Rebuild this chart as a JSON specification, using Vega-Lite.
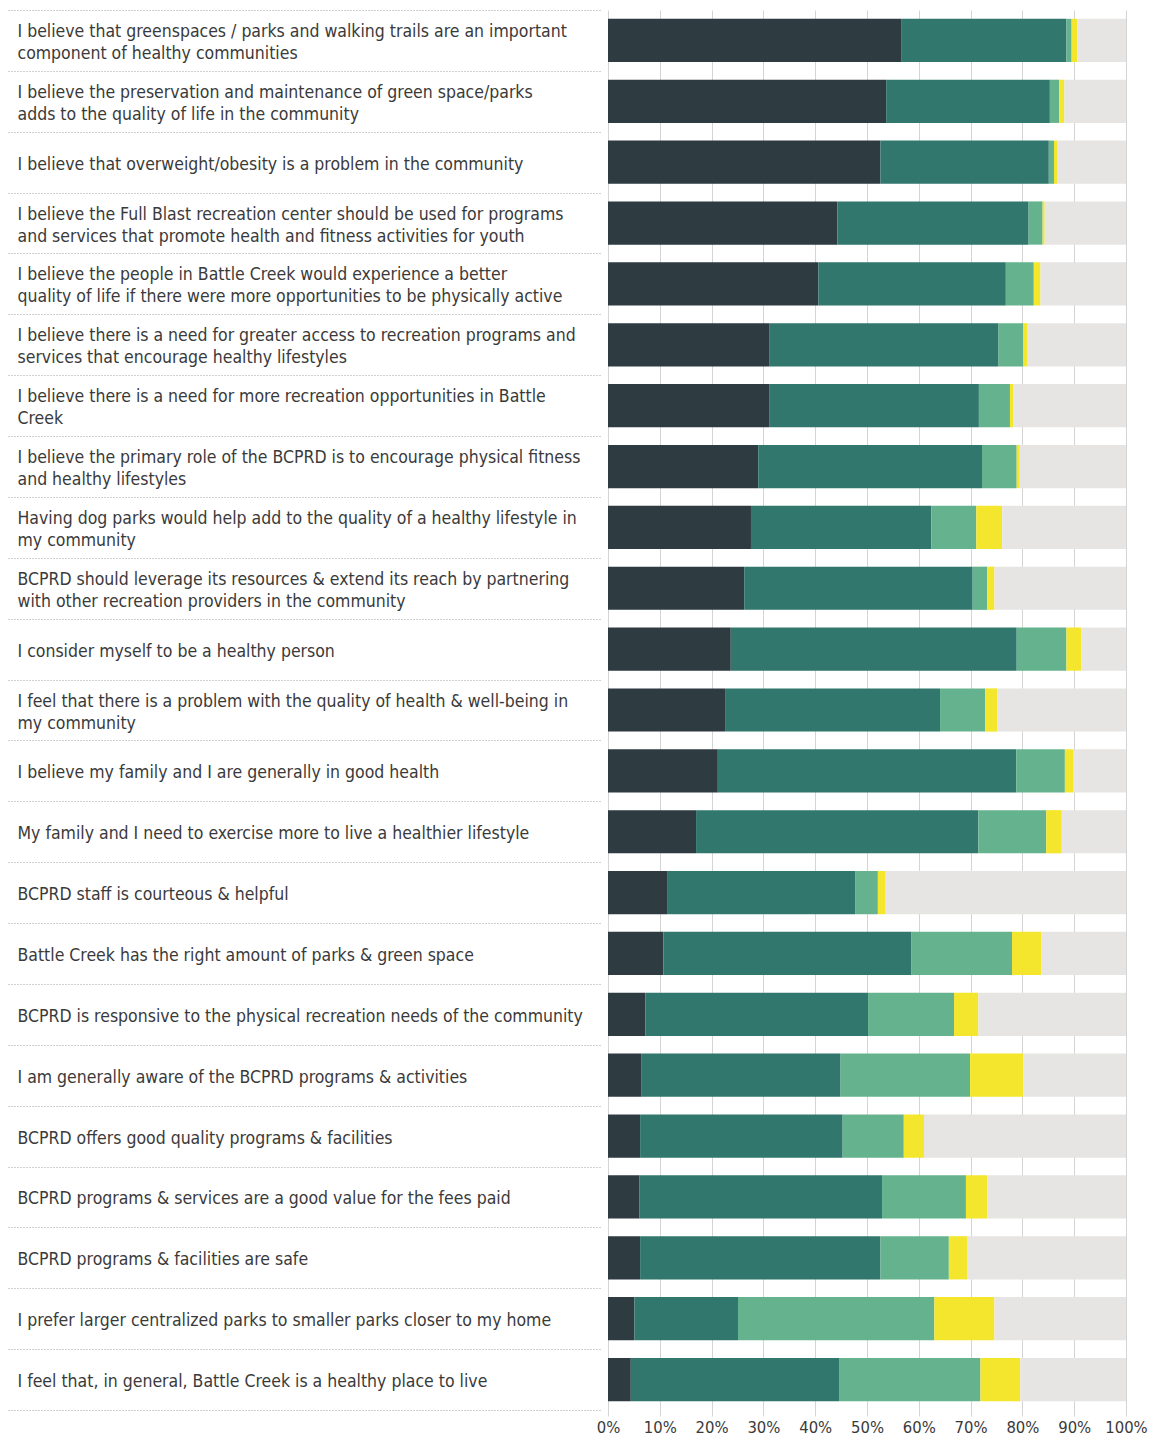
{
  "$schema": "https://vega.github.io/schema/vega-lite/v6.json",
  "autosize": {"type": "none"},
  "padding": {"left": 608, "top": 10, "right": 25, "bottom": 29},
  "width": 518,
  "height": 1400,
  "background": "white",
  "config": {"view": {"stroke": null}},
  "data": {"values": [
    {"q": "I believe that greenspaces / parks and walking trails are an important|component of healthy communities", "Strongly Agree": 56.7, "Agree": 31.8, "Neutral": 1.0, "Disagree": 1.1, "Other": 9.4},
    {"q": "I believe the preservation and maintenance of green space/parks|adds to the quality of life in the community", "Strongly Agree": 53.7, "Agree": 31.6, "Neutral": 1.8, "Disagree": 1.0, "Other": 11.9},
    {"q": "I believe that overweight/obesity is a problem in the community", "Strongly Agree": 52.6, "Agree": 32.5, "Neutral": 1.0, "Disagree": 0.7, "Other": 13.2},
    {"q": "I believe the Full Blast recreation center should be used for programs|and services that promote health and fitness activities for youth", "Strongly Agree": 44.3, "Agree": 36.9, "Neutral": 2.7, "Disagree": 0.4, "Other": 15.7},
    {"q": "I believe the people in Battle Creek would experience a better|quality of life if there were more opportunities to be physically active", "Strongly Agree": 40.6, "Agree": 36.2, "Neutral": 5.4, "Disagree": 1.3, "Other": 16.5},
    {"q": "I believe there is a need for greater access to recreation programs and|services that encourage healthy lifestyles", "Strongly Agree": 31.1, "Agree": 44.3, "Neutral": 4.8, "Disagree": 0.8, "Other": 19.0},
    {"q": "I believe there is a need for more recreation opportunities in Battle|Creek", "Strongly Agree": 31.1, "Agree": 40.5, "Neutral": 6.0, "Disagree": 0.6, "Other": 21.8},
    {"q": "I believe the primary role of the BCPRD is to encourage physical fitness|and healthy lifestyles", "Strongly Agree": 29.0, "Agree": 43.2, "Neutral": 6.7, "Disagree": 0.6, "Other": 20.5},
    {"q": "Having dog parks would help add to the quality of a healthy lifestyle in|my community", "Strongly Agree": 27.6, "Agree": 34.8, "Neutral": 8.7, "Disagree": 5.0, "Other": 23.9},
    {"q": "BCPRD should leverage its resources & extend its reach by partnering|with other recreation providers in the community", "Strongly Agree": 26.3, "Agree": 44.1, "Neutral": 2.8, "Disagree": 1.4, "Other": 25.4},
    {"q": "I consider myself to be a healthy person", "Strongly Agree": 23.7, "Agree": 55.2, "Neutral": 9.6, "Disagree": 2.9, "Other": 8.6},
    {"q": "I feel that there is a problem with the quality of health & well-being in|my community", "Strongly Agree": 22.6, "Agree": 41.5, "Neutral": 8.7, "Disagree": 2.4, "Other": 24.8},
    {"q": "I believe my family and I are generally in good health", "Strongly Agree": 21.2, "Agree": 57.6, "Neutral": 9.4, "Disagree": 1.7, "Other": 10.1},
    {"q": "My family and I need to exercise more to live a healthier lifestyle", "Strongly Agree": 17.0, "Agree": 54.5, "Neutral": 13.1, "Disagree": 3.0, "Other": 12.4},
    {"q": "BCPRD staff is courteous & helpful", "Strongly Agree": 11.4, "Agree": 36.3, "Neutral": 4.4, "Disagree": 1.5, "Other": 46.4},
    {"q": "Battle Creek has the right amount of parks & green space", "Strongly Agree": 10.7, "Agree": 47.9, "Neutral": 19.4, "Disagree": 5.7, "Other": 16.3},
    {"q": "BCPRD is responsive to the physical recreation needs of the community", "Strongly Agree": 7.2, "Agree": 43.0, "Neutral": 16.6, "Disagree": 4.7, "Other": 28.5},
    {"q": "I am generally aware of the BCPRD programs & activities", "Strongly Agree": 6.5, "Agree": 38.4, "Neutral": 25.0, "Disagree": 10.3, "Other": 19.8},
    {"q": "BCPRD offers good quality programs & facilities", "Strongly Agree": 6.2, "Agree": 39.1, "Neutral": 11.8, "Disagree": 3.9, "Other": 39.0},
    {"q": "BCPRD programs & services are a good value for the fees paid", "Strongly Agree": 6.1, "Agree": 46.8, "Neutral": 16.2, "Disagree": 4.1, "Other": 26.8},
    {"q": "BCPRD programs & facilities are safe", "Strongly Agree": 6.2, "Agree": 46.4, "Neutral": 13.2, "Disagree": 3.5, "Other": 30.7},
    {"q": "I prefer larger centralized parks to smaller parks closer to my home", "Strongly Agree": 5.1, "Agree": 20.0, "Neutral": 37.9, "Disagree": 11.6, "Other": 25.4},
    {"q": "I feel that, in general, Battle Creek is a healthy place to live", "Strongly Agree": 4.4, "Agree": 40.2, "Neutral": 27.3, "Disagree": 7.7, "Other": 20.4}
  ]},
  "transform": [
    {"fold": ["Strongly Agree", "Agree", "Neutral", "Disagree", "Other"], "as": ["response", "pct"]},
    {"window": [{"op": "row_number", "as": "rank"}], "groupby": ["q"]}
  ],
  "mark": {"type": "bar", "height": {"band": 0.71}},
  "encoding": {
    "y": {
      "field": "q", "type": "nominal", "sort": null,
      "scale": {"paddingInner": 0, "paddingOuter": 0},
      "axis": {
        "title": null, "domain": false, "grid": false,
        "ticks": true, "tickBand": "extent", "tickSize": 592, "tickColor": "#a0a0a0", "tickDash": [1, 2], "tickWidth": 1,
        "offset": 8, "labelAlign": "left", "labelPadding": -9, "labelBaseline": "middle",
        "labelFont": "DejaVu Sans Condensed", "labelFontSize": 17.5, "labelColor": "#3a3a3a",
        "labelLimit": 0, "labelLineHeight": 22, "labelOverlap": false,
        "labelExpr": "datum.value ? split(datum.value, '|') : ''",
        "labelOffset": {"condition": {"test": "datum.value && indexof(datum.value, '|') >= 0", "value": -9}, "value": 2}
      }
    },
    "x": {
      "field": "pct", "type": "quantitative", "stack": "zero",
      "scale": {"domain": [0, 100], "nice": false},
      "axis": {
        "title": null, "domain": false, "grid": true, "gridColor": "#d4d4d4", "gridWidth": 1,
        "values": [0, 10, 20, 30, 40, 50, 60, 70, 80, 90, 100],
        "ticks": true, "tickSize": 6, "tickColor": "#d4d4d4",
        "labelExpr": "datum.value + '%'", "labelFlush": false,
        "labelFont": "DejaVu Sans Condensed", "labelFontSize": 16.5, "labelColor": "#3a3a3a", "labelPadding": 3
      }
    },
    "color": {
      "field": "response", "type": "nominal",
      "scale": {
        "domain": ["Strongly Agree", "Agree", "Neutral", "Disagree", "Other"],
        "range": ["#2e3b40", "#31776d", "#64b38e", "#f4e62c", "#e6e5e3"]
      },
      "legend": null
    },
    "order": {"field": "rank", "type": "quantitative", "sort": "ascending"}
  }
}
